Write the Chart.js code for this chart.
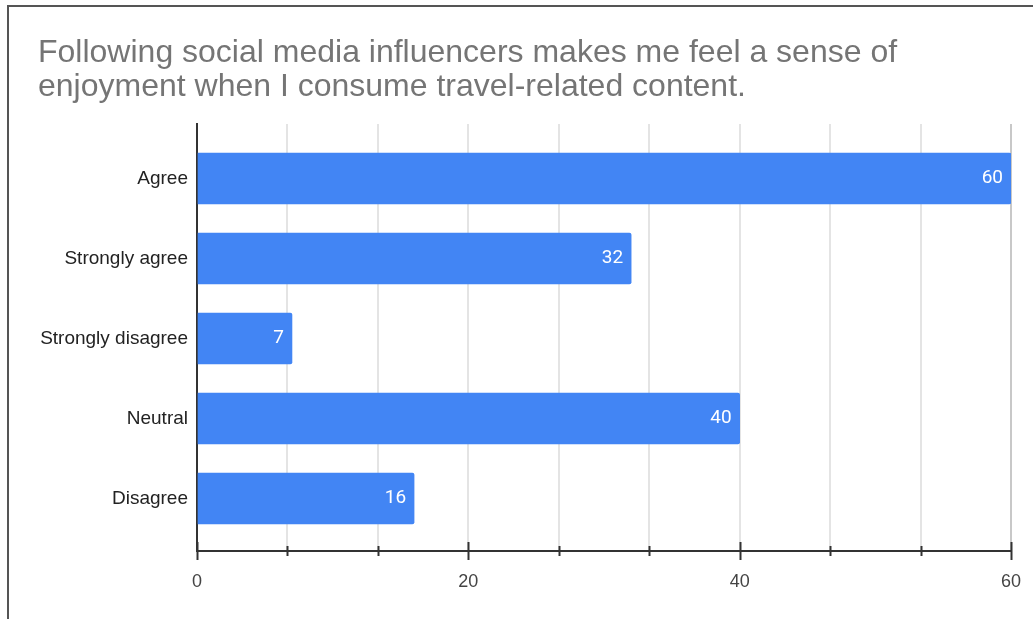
<!DOCTYPE html>
<html>
<head>
<meta charset="utf-8">
<script src="https://cdn.jsdelivr.net/npm/chart.js@4.4.1/dist/chart.umd.min.js"></script>
<style>
  html, body { margin: 0; padding: 0; background: #fff; }
  #frame {
    position: absolute; left: 7px; top: 5px;
    width: 1024px; height: 612px;
    border-left: 2px solid #555; border-top: 2px solid #555;
  }
</style>
</head>
<body>
<div id="frame"><canvas id="graficoBarras"></canvas></div>
<script>
const categorias = ["Agree", "Strongly agree", "Strongly disagree", "Neutral", "Disagree"];
const respuestas = [60, 32, 7, 40, 16];
const ticksMayores = [0, 20, 40, 60];
const divisiones = 3; // minor ticks between the labelled ones

const azul = '#4285F4';
const fuente = '"Liberation Sans", Arial, sans-serif';

// ticks along the value axis: labelled ones plus the minor steps between them
function ticksEjeX() {
    const lista = [];
    for (let i = 0; i < ticksMayores.length - 1; i++) {
        const a = ticksMayores[i], b = ticksMayores[i + 1];
        for (let k = 0; k < divisiones; k++) lista.push({ value: a + (b - a) * k / divisiones });
    }
    lista.push({ value: ticksMayores[ticksMayores.length - 1] });
    return lista;
}

// value written inside the end of each bar
const etiquetas = {
    id: 'etiquetas',
    afterDatasetsDraw(chart) {
        const ctx = chart.ctx;
        const meta = chart.getDatasetMeta(0);
        ctx.save();
        ctx.fillStyle = '#fff';
        ctx.font = '19px Roboto, sans-serif';
        ctx.textAlign = 'right';
        ctx.textBaseline = 'middle';
        meta.data.forEach((barra, i) => {
            ctx.fillText(String(respuestas[i]), barra.x - 8, barra.y);
        });
        ctx.restore();
    }
};

// tick marks crossing the x axis line, longer on the labelled values
const marcas = {
    id: 'marcas',
    afterDraw(chart) {
        const ctx = chart.ctx;
        const x = chart.scales.x;
        const y0 = chart.chartArea.bottom;
        ctx.save();
        ctx.strokeStyle = '#333';
        ctx.lineWidth = 2;
        x.ticks.forEach(t => {
            const px = Math.round(x.getPixelForValue(t.value)) + 0.5;
            const largo = ticksMayores.includes(t.value) ? 9 : 5;
            ctx.beginPath();
            ctx.moveTo(px, y0 - largo);
            ctx.lineTo(px, y0 + largo);
            ctx.stroke();
        });
        ctx.restore();
    }
};

const dataBarras = {
    datasets: [{
        data: respuestas.map((v, i) => ({ x: v, y: i })),
        backgroundColor: azul,
        borderRadius: 2,
        borderSkipped: 'start',
        barThickness: 51
    }]
};

const configBarras = {
    type: 'bar',
    data: dataBarras,
    options: {
        indexAxis: 'y',
        responsive: true,
        maintainAspectRatio: false,
        animation: false,
        layout: { padding: { left: 29, right: 22, top: 0, bottom: 0 } },
        plugins: {
            legend: { display: false },
            tooltip: { enabled: false },
            title: {
                display: true,
                align: 'start',
                text: ["Following social media influencers makes me feel a sense of",
                       "enjoyment when I consume travel-related content."],
                color: '#757575',
                font: { family: fuente, size: 32, weight: 'normal', lineHeight: '34px' },
                padding: { top: 29, bottom: 20 }
            }
        },
        scales: {
            x: {
                type: 'linear',
                bounds: 'data',
                min: ticksMayores[0],
                max: ticksMayores[ticksMayores.length - 1],
                afterBuildTicks: s => { s.ticks = ticksEjeX(); },
                afterFit: s => { s.height = 68; s.paddingLeft = 0; s.paddingRight = 0; },
                grid: {
                    drawTicks: false,
                    color: c => c.tick && c.tick.value === 60 ? '#c8c8c8' : '#e4e4e4',
                    lineWidth: 2
                },
                border: { color: '#333', width: 2 },
                ticks: {
                    autoSkip: false,
                    maxRotation: 0,
                    padding: 20,
                    color: '#444',
                    font: { family: fuente, size: 18 },
                    callback: v => ticksMayores.includes(v) ? String(v) : ''
                }
            },
            y: {
                type: 'linear',
                bounds: 'data',
                offset: false,
                reverse: true,
                min: -0.681,
                max: 4.656,
                afterBuildTicks: s => { s.ticks = categorias.map((c, i) => ({ value: i })); },
                afterFit: s => { s.width = 159; },
                grid: { drawTicks: false, color: 'transparent' },
                border: { color: '#333', width: 2 },
                ticks: {
                    padding: 9,
                    color: '#222',
                    font: { family: fuente, size: 19 },
                    callback: v => categorias[v]
                }
            }
        }
    },
    plugins: [etiquetas, marcas]
};

new Chart(document.querySelector('#graficoBarras'), configBarras);
</script>
</body>
</html>
